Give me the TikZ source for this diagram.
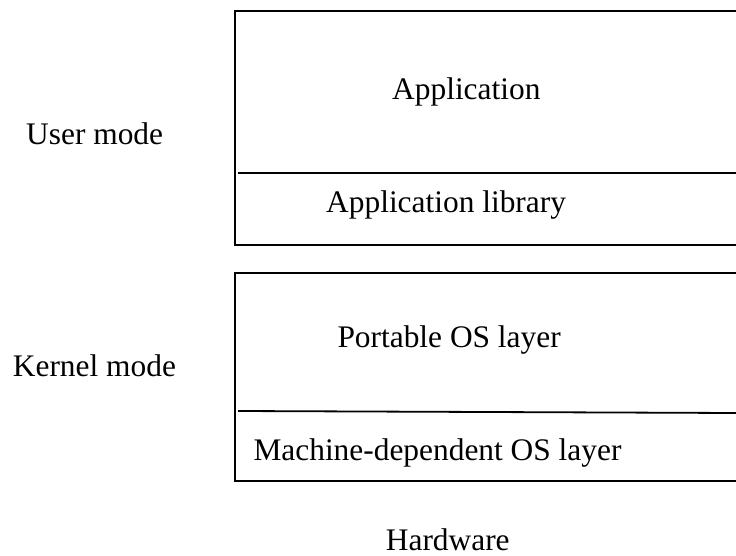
\documentclass[tikz,border=0pt]{standalone}
\usepackage{fontspec}
\setmainfont{Liberation Serif}
\tikzset{
  lbl/.style={inner sep=0pt, anchor=base west, font=\fontsize{31.4}{36}\selectfont},
  boxline/.style={line width=2pt, black},
  sepline/.style={line width=1.8pt, black}
}
\begin{document}
\begin{tikzpicture}[x=1pt,y=-1pt]
\useasboundingbox (0,0) rectangle (736,556);
% user-mode box (open on the right, runs past the picture edge)
\draw[boxline] (736,11) -- (235,11) -- (235,244.5) -- (736,244.5);
\draw[sepline] (238,172.7) -- (736,172.7);
% kernel-mode box
\draw[boxline] (736,272.7) -- (235,272.7) -- (235,480.5) -- (736,480.5);
\draw[sepline] (238,411) -- (736,413);
% labels
\node[lbl] (app) at (392,99.3) {Application};
\node[lbl] (applib) at (326,213) {Application library};
\node[lbl] (user) at (26,145) {User mode};
\node[lbl] (port) at (337.3,347.3) {Portable OS layer};
\node[lbl] (kern) at (12.7,376.7) {Kernel mode};
\node[lbl] (mach) at (253.3,460) {Machine-dependent OS layer};
\node[lbl] (hw) at (385.7,550) {Hardware};
\end{tikzpicture}
\end{document}
